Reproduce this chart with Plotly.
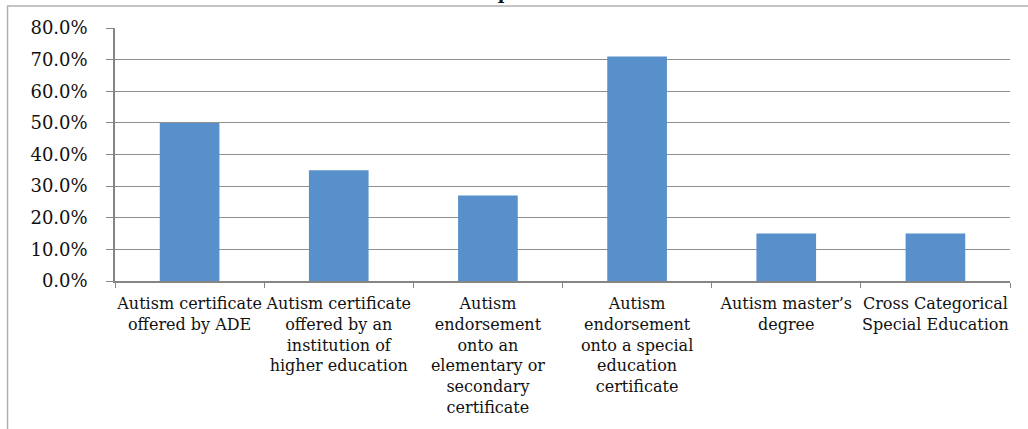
import plotly.graph_objects as go

# Certification options and the share of respondents choosing each
categories = [
    "Autism certificate<br>offered by ADE",
    "Autism certificate<br>offered by an<br>institution of<br>higher education",
    "Autism<br>endorsement<br>onto an<br>elementary or<br>secondary<br>certificate",
    "Autism<br>endorsement<br>onto a special<br>education<br>certificate",
    "Autism master’s<br>degree",
    "Cross Categorical<br>Special Education",
]
shares = [0.50, 0.35, 0.27, 0.71, 0.15, 0.15]
y_ticks = [0.0, 0.1, 0.2, 0.3, 0.4, 0.5, 0.6, 0.7, 0.8]
y_tick_text = ["0.0%", "10.0%", "20.0%", "30.0%", "40.0%", "50.0%", "60.0%", "70.0%", "80.0%"]

W, H = 1028, 429
L, R, T, B = 115, 18, 28, 148
FONT = "DejaVu Serif"

fig = go.Figure(
    go.Bar(
        x=categories,
        y=shares,
        marker=dict(color="#5790CB", line=dict(width=0)),
        hoverinfo="x+y",
    )
)

plot_w = W - L - R
plot_h = H - T - B

def px_to_paper_x(px):
    return (px - L) / plot_w

def px_to_paper_y(py):
    return 1 - (py - T) / plot_h

fig.update_layout(
    width=W,
    height=H,
    margin=dict(l=L, r=R, t=T, b=B, pad=0),
    paper_bgcolor="white",
    plot_bgcolor="white",
    bargap=0.6,
    showlegend=False,
    font=dict(family=FONT, size=16, color="#111111"),
    xaxis=dict(
        type="category",
        showline=True,
        linecolor="#858585",
        linewidth=1.5,
        ticks="outside",
        tickson="boundaries",
        ticklen=5,
        tickcolor="#858585",
        showgrid=False,
        tickfont=dict(family=FONT, size=16, color="#111111"),
        tickangle=0,
        ticklabelstandoff=7,
    ),
    yaxis=dict(
        range=[0, 0.8],
        tickvals=y_ticks,
        ticktext=y_tick_text,
        showline=True,
        linecolor="#858585",
        linewidth=1.5,
        ticks="outside",
        ticklen=7,
        tickcolor="#858585",
        showgrid=True,
        gridcolor="#8f8f8f",
        gridwidth=1.2,
        zeroline=False,
        tickfont=dict(family=FONT, size=18, color="#111111"),
        ticklabelstandoff=15,
    ),
    shapes=[
        # chart frame: top and left edges
        dict(type="line", xref="paper", yref="paper",
             x0=px_to_paper_x(7), x1=px_to_paper_x(W + 5),
             y0=px_to_paper_y(6), y1=px_to_paper_y(6),
             line=dict(color="#b0b0b0", width=1.5)),
        dict(type="line", xref="paper", yref="paper",
             x0=px_to_paper_x(7.5), x1=px_to_paper_x(7.5),
             y0=px_to_paper_y(6), y1=px_to_paper_y(H + 5),
             line=dict(color="#b0b0b0", width=1.5)),
    ],
    annotations=[
        dict(text="<b>Options</b>", xref="paper", yref="paper",
             x=px_to_paper_x(521), y=px_to_paper_y(5),
             xanchor="center", yanchor="bottom", showarrow=False,
             font=dict(family=FONT, size=18, color="#111111")),
    ],
)

fig.write_html("out.html")
